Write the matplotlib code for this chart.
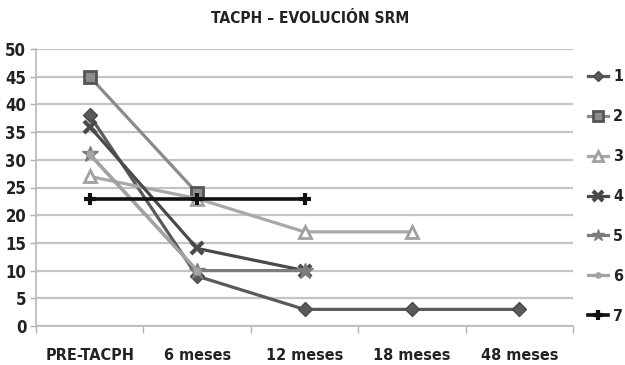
import matplotlib
matplotlib.use("Agg")
import matplotlib.pyplot as plt
from matplotlib import font_manager
from matplotlib.font_manager import FontProperties

categories = ["PRE-TACPH", "6 meses", "12 meses", "18 meses", "48 meses"]
series_names = ["1", "2", "3", "4", "5", "6", "7"]
s1 = [38, 9, 3, 3, 3]
s2 = [45, 24]
s3 = [27, 23, 17, 17]
s4 = [36, 14, 10]
s5 = [31, 10, 10]
s6 = [31, 10]
s7 = [23, 23, 23]
yticks = [0, 5, 10, 15, 20, 25, 30, 35, 40, 45, 50]


def pick_condensed():
    """Prefer a bold narrow/condensed face if one is installed."""
    best = None
    for f in font_manager.fontManager.ttflist:
        n = (f.name + " " + str(f.stretch)).lower()
        narrow = ("narrow" in n or "condensed" in n)
        bold = f.weight in ("bold", 700, "semibold", 600) or str(f.weight) in ("700", "600")
        if narrow and bold and "oblique" not in f.fname.lower() and "italic" not in f.fname.lower():
            if best is None or "liberation" in f.name.lower():
                best = f.fname
    return best


fpath = pick_condensed()
if fpath:
    def fp(size):
        return FontProperties(fname=fpath, size=size)
else:
    def fp(size):
        return FontProperties(family="DejaVu Sans", weight="bold", stretch="condensed", size=size)

fig = plt.figure(figsize=(6.25, 3.65), dpi=100)
ax = fig.add_axes([36 / 625, 1 - 326 / 365, (573 - 36) / 625, (326 - 49) / 365])

styles = [
    (s1, dict(color="#5a5a5a", marker="D", ms=7, mfc="#5a5a5a", mec="#4a4a4a", lw=2.3)),
    (s2, dict(color="#8a8a8a", marker="s", ms=9, mfc="#8c8c8c", mec="#555555", mew=2, lw=2.3)),
    (s3, dict(color="#a8a8a8", marker="^", ms=9, mfc="white", mec="#a0a0a0", mew=2, lw=2.3)),
    (s4, dict(color="#4a4a4a", marker="x", ms=9, mec="#4a4a4a", mew=3, lw=2.3)),
    (s5, dict(color="#7c7c7c", marker="*", ms=12, mfc="#7c7c7c", mec="#7c7c7c", lw=2.3)),
    (s6, dict(color="#a3a3a3", marker="o", ms=5, mfc="#a3a3a3", mec="#a3a3a3", lw=2.3)),
    (s7, dict(color="#111111", marker="+", ms=9, mec="#111111", mew=3, lw=2.6)),
]

draw_order = [5, 4, 2, 1, 3, 0, 6]
handles = [None] * len(styles)
for i in draw_order:
    vals, st = styles[i]
    (ln,) = ax.plot(range(len(vals)), vals, zorder=3 + i * 0.1, **st)
    handles[i] = ln

ax.set_xlim(-0.5, len(categories) - 0.5)
ax.set_ylim(0, 50)
ax.set_yticks(yticks)
ax.set_yticklabels([str(v) for v in yticks], fontproperties=fp(12), color="#222222")
ax.set_xticks(range(len(categories)))
ax.set_xticklabels(categories, fontproperties=fp(11.6), color="#222222")
ax.set_xticks([i + 0.5 for i in range(-1, len(categories))], minor=True)
ax.tick_params(axis="x", which="major", length=0, pad=16)
ax.tick_params(axis="x", which="minor", length=5, width=1, color="#b0b0b0", direction="out")
ax.tick_params(axis="y", length=4, width=1, color="#b0b0b0", pad=3)

ax.grid(axis="y", color="#c4c4c4", lw=1.6, zorder=0)
ax.set_axisbelow(True)
for side in ("top", "right"):
    ax.spines[side].set_visible(False)
for side in ("left", "bottom"):
    ax.spines[side].set_color("#b8b8b8")
    ax.spines[side].set_linewidth(1.2)

ax.set_title("TACPH – EVOLUCIÓN SRM", fontproperties=fp(11.2), color="#222222", pad=19, x=0.51)

leg = fig.legend(handles, series_names, loc="upper left", bbox_to_anchor=(582 / 625, 1 - 63 / 365),
                 frameon=False, labelspacing=1.56, handlelength=1.2, handletextpad=0.35,
                 prop=fp(11.5), borderaxespad=0, markerscale=0.75)
for t in leg.get_texts():
    t.set_color("#222222")

fig.savefig("out.png", dpi=100)
